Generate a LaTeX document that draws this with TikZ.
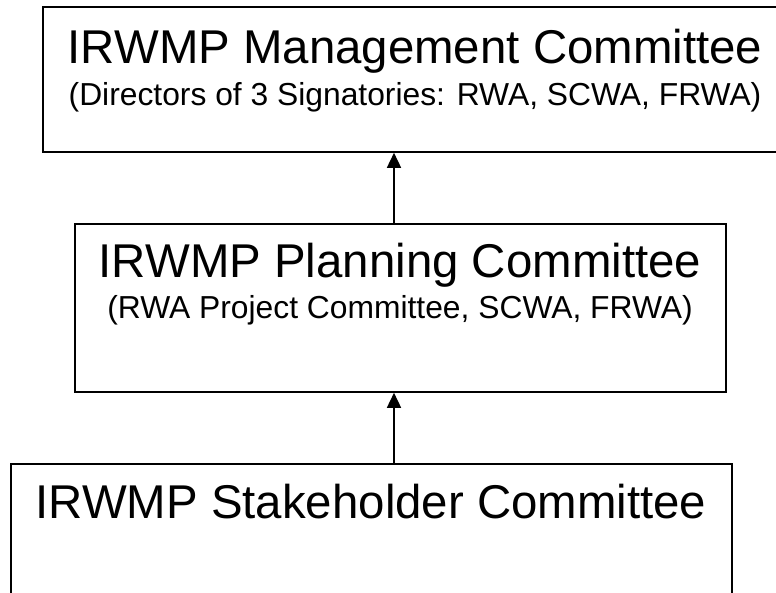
\documentclass[tikz,border=0pt]{standalone}
\usepackage{fontspec}
\setmainfont{Liberation Sans}
\usetikzlibrary{arrows.meta}

\begin{document}
\begin{tikzpicture}[x=1pt,y=-1pt,
  committee/.style={draw,line width=1.6pt,inner sep=0pt},
  headtext/.style={anchor=base,inner sep=0pt,font=\fontsize{47.4}{56}\selectfont},
  subtext/.style={anchor=base,inner sep=0pt,font=\fontsize{31.8}{38}\selectfont},
  uparrow/.style={-{Triangle[length=15pt,width=14pt]},line width=1.6pt}]
\useasboundingbox (0,0) rectangle (776,592);
\clip (0,0) rectangle (776,592);

% Management committee (right side runs off the page)
\node[committee,minimum width=744pt,minimum height=145pt] (mgmt) at (415,79.5) {};
\node[headtext] (mgmttitle) at (415,63) {IRWMP Management Committee};
\node[subtext] (mgmtsub) at (415,105) {(Directors of 3 Signatories: RWA, SCWA, FRWA)};

% Planning committee
\node[committee,minimum width=651pt,minimum height=168pt] (plan) at (400.5,308) {};
\node[headtext] (plantitle) at (400,277) {IRWMP Planning Committee};
\node[subtext] (plansub) at (400,318) {(RWA Project Committee, SCWA, FRWA)};

% Stakeholder committee (bottom runs off the page)
\node[committee,minimum width=721pt,minimum height=156pt] (stake) at (371.5,542) {};
\node[headtext] (staketitle) at (371,518) {IRWMP Stakeholder Committee};

% reporting lines
\coordinate (spine) at (394,0);
\draw[uparrow] (plan.north -| spine) -- (mgmt.south -| spine);
\draw[uparrow] (stake.north -| spine) -- (plan.south -| spine);
\end{tikzpicture}
\end{document}
